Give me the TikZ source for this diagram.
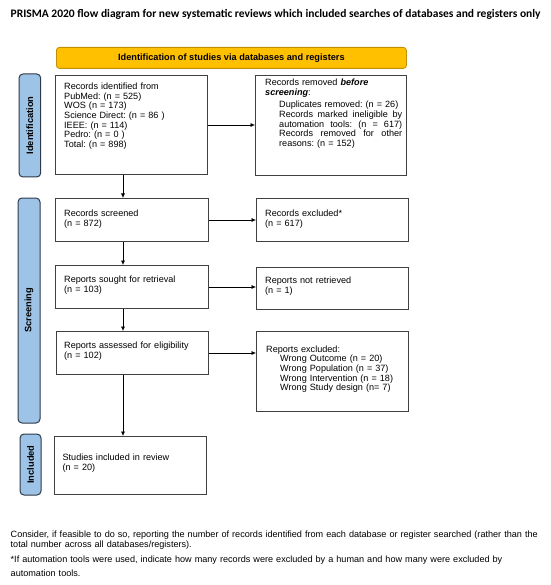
\documentclass[tikz,border=0pt]{standalone}
\usepackage{fontspec}
\setmainfont{Liberation Sans}
\newfontfamily\titlefont{Carlito}
\usetikzlibrary{arrows.meta}
\definecolor{bandyellow}{HTML}{FFC000}
\definecolor{bandedge}{HTML}{C09000}
\definecolor{sideblue}{HTML}{9DC3E6}
\definecolor{sideedge}{HTML}{2F3A4A}
\definecolor{boxedge}{HTML}{404040}
\newcommand\fullline[1]{\makebox[123pt][s]{\spaceskip=0.28em plus 3em\relax #1}}
\frenchspacing
\begin{document}
\begin{tikzpicture}[x=1pt,y=-1pt,
  box/.style={draw=boxedge, line width=1pt, anchor=north west, inner sep=0pt},
  side/.style={draw=sideedge, fill=sideblue, line width=1pt, rounded corners=4pt, inner sep=0pt, rotate=90,
    font=\fontsize{9.3}{11}\selectfont\bfseries},
  band/.style={draw=bandedge, fill=bandyellow, line width=0.8pt, rounded corners=3pt, anchor=north west, inner sep=0pt,
    font=\fontsize{9.2}{11}\selectfont\bfseries},
  txt/.style={anchor=base west, inner sep=0pt, align=left, text width=142pt, font=\fontsize{9.1}{9.65}\selectfont\frenchspacing},
  note/.style={anchor=base west, inner sep=0pt, align=left, text width=545pt},
  arr/.style={-{Latex[length=4.5pt,width=4pt]}, line width=0.6pt, black}
]
\useasboundingbox (0,0) rectangle (550,585);
\fill[white] (0,0) rectangle (550,585);

% title
\node[anchor=base west, inner sep=0pt, font=\titlefont\fontsize{11.5}{13}\selectfont\bfseries] (title) at (10.5,17.8)
  {PRISMA 2020 flow diagram for new systematic reviews which included searches of databases and registers only};

% band
\node[band, minimum width=350pt, minimum height=21pt] (band) at (56,47) {Identification of studies via databases and registers};

% side labels
\node[side, minimum width=103pt, minimum height=21.7pt] (sideid) at (29.85,125.5) {Identification};
\node[side, minimum width=225pt, minimum height=22pt] (sidesc) at (29,310.5) {Screening};
\node[side, minimum width=61pt, minimum height=21pt] (sidein) at (30.5,464.5) {Included};

% boxes
\node[box, minimum width=152pt, minimum height=99pt] (ident) at (55,75) {};
\node[box, minimum width=151pt, minimum height=100pt] (removed) at (255,75) {};
\node[box, minimum width=153pt, minimum height=43pt] (screened) at (55,198) {};
\node[box, minimum width=152pt, minimum height=43pt] (excluded) at (256,198) {};
\node[box, minimum width=153pt, minimum height=43pt] (sought) at (55,265) {};
\node[box, minimum width=152pt, minimum height=42pt] (notret) at (256,267) {};
\node[box, minimum width=152pt, minimum height=43pt] (assessed) at (56,331) {};
\node[box, minimum width=152pt, minimum height=80pt] (repexcl) at (256,331) {};
\node[box, minimum width=152pt, minimum height=58pt] (studies) at (54,436) {};

% texts
\node[txt] (identtxt) at (64,89.7) {Records identified from\\PubMed: (n = 525)\\WOS (n = 173)\\Science Direct: (n = 86 )\\IEEE: (n = 114)\\Pedro: (n = 0 )\\Total: (n = 898)};
\node[txt] (removedtxt) at (265,86) {Records removed \textbf{\textit{before}}\\
  \textbf{\textit{screening}}:\\[2.6pt]
  \hspace*{14pt}Duplicates removed: (n = 26)\\
  \hspace*{14pt}\fullline{Records marked ineligible by}\\
  \hspace*{14pt}\fullline{automation tools: (n = 617)}\\
  \hspace*{14pt}\fullline{Records removed for other}\\
  \hspace*{14pt}reasons: (n = 152)};
\node[txt] (screenedtxt) at (64,216.5) {Records screened\\(n = 872)};
\node[txt] (excludedtxt) at (265,216.5) {Records excluded*\\(n = 617)};
\node[txt] (soughttxt) at (64,282.5) {Reports sought for retrieval\\(n = 103)};
\node[txt] (notrettxt) at (265,283.9) {Reports not retrieved\\(n = 1)};
\node[txt] (assessedtxt) at (64,348.9) {Reports assessed for eligibility\\(n = 102)};
\node[txt] (repexcltxt) at (266,352.2) {Reports excluded:\\
  \hspace*{14pt}Wrong Outcome (n = 20)\\
  \hspace*{14pt}Wrong Population (n = 37)\\
  \hspace*{14pt}Wrong Intervention (n = 18)\\
  \hspace*{14pt}Wrong Study design (n= 7)};
\node[txt] (studiestxt) at (62.4,460.5) {Studies included in review\\(n = 20)};

% connectors
\coordinate (spine) at (123,0);
\draw[arr] (ident.east) -- (ident.east -| removed.west);
\draw[arr] (screened.east) -- (screened.east -| excluded.west);
\draw[arr] (sought.east) -- (sought.east -| notret.west);
\draw[arr] (assessed.east) -- (assessed.east -| repexcl.west);
\draw[arr] (ident.south -| spine) -- (screened.north -| spine);
\draw[arr] (screened.south -| spine) -- (sought.north -| spine);
\draw[arr] (sought.south -| spine) -- (assessed.north -| spine);
\draw[arr] (assessed.south -| spine) -- (studies.north -| spine);

% notes
\node[note, font=\fontsize{9.1}{10.7}\selectfont] (note1) at (10.5,537)
  {Consider, if feasible to do so, reporting the number of records identified from each database or register searched (rather than the\\total number across all databases/registers).};
\node[note, font=\fontsize{9.1}{14.3}\selectfont] (note2) at (10.5,562)
  {*If automation tools were used, indicate how many records were excluded by a human and how many were excluded by\\automation tools.};
\end{tikzpicture}
\end{document}
